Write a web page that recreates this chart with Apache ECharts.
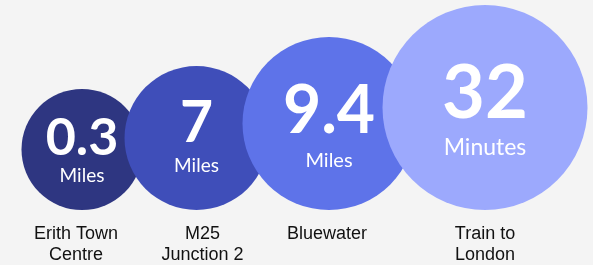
<!DOCTYPE html>
<html>
<head>
<meta charset="utf-8">
<script src="https://cdn.jsdelivr.net/npm/echarts@6/dist/echarts.min.js"></script>
<style>
html, body { margin: 0; padding: 0; background: #f4f4f4; }
#chart { width: 593px; height: 265px; }
</style>
</head>
<body>
<div id="chart"></div>
<script>
var places = ["Erith Town\nCentre", "M25\nJunction 2", "Bluewater", "Train to\nLondon"];
var values = [0.3, 7, 9.4, 32];
var units = ["Miles", "Miles", "Miles", "Minutes"];

// look of each bubble
var colors = ["#2e3681", "#3f4eb9", "#5e73e9", "#9ca9fd"];
var diameters = [121, 144, 173, 205];
var overlaps = [0, 18, 26, 33];
var numSizes = [52, 57, 66, 74];
var unitSizes = [19, 19, 20, 23];
var numLines = [52, 55, 74, 81];
var unitLines = [22, 29, 24, 26];
var nameShift = [-6, 6, -2, 0];

var mychart = echarts.init(document.getElementById("chart"));

// bubbles sit on one baseline, each one overlapping the one before a little
var centers = [];
var x = 21.5;
for (var i = 0; i < values.length; i++) {
    if (i === 0) {
        x = x + diameters[0] / 2;
    } else {
        x = x + diameters[i - 1] / 2 + diameters[i] / 2 - overlaps[i];
    }
    centers.push(x);
}

var rich = {};
var bubbles = [];
var names = [];
for (var j = 0; j < values.length; j++) {
    rich["n" + j] = {
        color: "#fff",
        fontFamily: "Lato",
        fontWeight: "bold",
        fontSize: numSizes[j],
        lineHeight: numLines[j],
        align: "center",
    };
    rich["u" + j] = {
        color: "#fff",
        fontFamily: "Lato",
        fontSize: unitSizes[j],
        lineHeight: unitLines[j],
        align: "center",
    };
    bubbles.push({
        value: [centers[j], 0],
        symbolSize: diameters[j],
        symbolOffset: [0, -diameters[j] / 2],
        itemStyle: { color: colors[j], opacity: 1 },
    });
    names.push({
        value: [centers[j], 0],
        name: places[j],
        label: { offset: [nameShift[j], 0] },
    });
}

var option = {
    backgroundColor: "#f4f4f4",
    animation: false,
    grid: { left: 0, right: 0, top: 0, bottom: 55 },
    xAxis: { type: "value", min: 0, max: 593, show: false },
    yAxis: { type: "value", min: 0, max: 1, show: false },
    series: [
        {
            type: "scatter",
            symbol: "circle",
            data: bubbles,
            silent: true,
            label: {
                show: true,
                position: "inside",
                rich: rich,
                formatter: function (p) {
                    var k = p.dataIndex;
                    return "{n" + k + "|" + values[k] + "}\n{u" + k + "|" + units[k] + "}";
                },
            },
        },
        {
            type: "scatter",
            symbolSize: 0,
            data: names,
            silent: true,
            itemStyle: { opacity: 1 },
            label: {
                show: true,
                position: "bottom",
                distance: 14,
                color: "#111",
                fontFamily: "Liberation Sans",
                fontSize: 18,
                lineHeight: 21,
                align: "center",
                formatter: function (p) {
                    return places[p.dataIndex];
                },
            },
        },
    ],
};

mychart.setOption(option);
</script>
</body>
</html>
